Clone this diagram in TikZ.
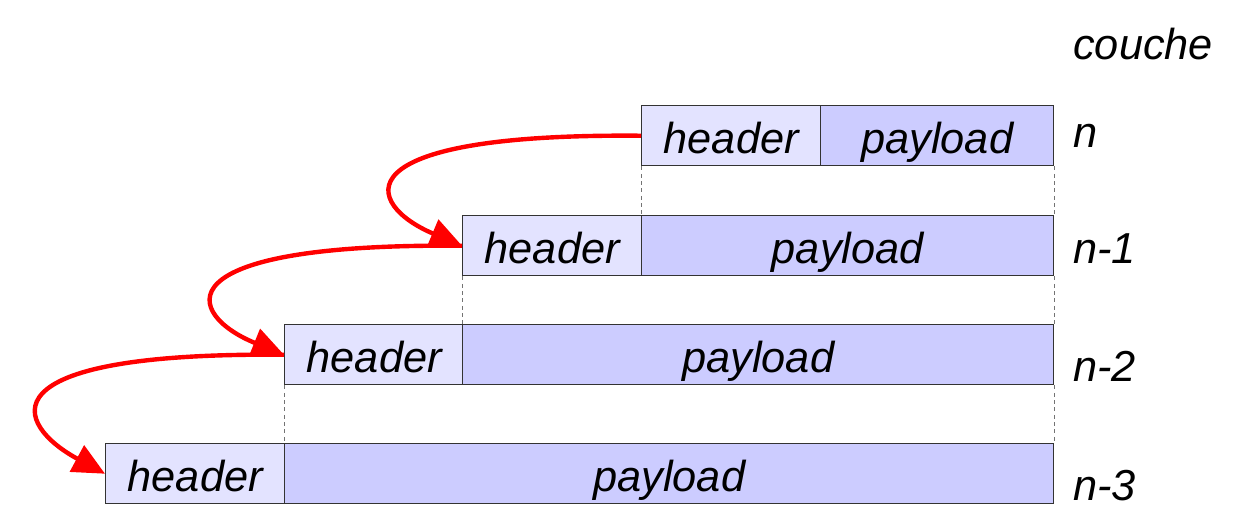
\documentclass[tikz,border=0pt]{standalone}
\usepackage{fontspec}
\setmainfont{Liberation Sans}
\usetikzlibrary{arrows.meta}
\definecolor{hdrfill}{RGB}{227,227,255}
\definecolor{payfill}{RGB}{204,204,255}
\definecolor{arrred}{RGB}{255,0,0}
\tikzset{
  cell/.style={draw=black!80, line width=1.1pt, anchor=north west, inner sep=0pt,
    minimum height=45pt, text height=30pt, text depth=3pt,
    font=\fontsize{32.5pt}{36pt}\selectfont\itshape},
  hdr/.style={cell, fill=hdrfill, minimum width=134.25pt},
  pay/.style={cell, fill=payfill},
  lbl/.style={anchor=base west, inner sep=0pt, font=\fontsize{32.5pt}{36pt}\selectfont\itshape},
  dsh/.style={draw=black!55, line width=0.75pt, dash pattern=on 3pt off 2.5pt},
  link/.style={draw=arrred, line width=3.3pt, -{Triangle[length=24pt,width=22pt]}}
}
\begin{document}
\begin{tikzpicture}[x=0.75pt,y=-0.75pt]
\useasboundingbox (0,0) rectangle (1234,523);
% row n
\node[hdr] (h1) at (641,105) {header};
\node[pay, minimum width=174.75pt] (p1) at (820,105) {payload};
% row n-1
\node[hdr] (h2) at (462,215) {header};
\node[pay, minimum width=309pt] (p2) at (641,215) {payload};
% row n-2
\node[hdr] (h3) at (284,324) {header};
\node[pay, minimum width=443.25pt] (p3) at (462,324) {payload};
% row n-3
\node[hdr] (h4) at (105,443) {header};
\node[pay, minimum width=576.75pt] (p4) at (284,443) {payload};
% labels
\node[lbl] (lc) at (1073,60) {couche};
\node[lbl] (l1) at (1073,148) {n};
\node[lbl] (l2) at (1073,264) {n-1};
\node[lbl] (l3) at (1073,382) {n-2};
\node[lbl] (l4) at (1073,500) {n-3};
% dashed guides
\draw[dsh] (h1.south west) -- (h1.south west |- h2.north);
\draw[dsh] (p1.south east) -- (p1.south east |- p2.north);
\draw[dsh] (h2.south west) -- (h2.south west |- h3.north);
\draw[dsh] (p2.south east) -- (p2.south east |- p3.north);
\draw[dsh] (h3.south west) -- (h3.south west |- h4.north);
\draw[dsh] (p3.south east) -- (p3.south east |- p4.north);
% arrows
\draw[link] (h1.west) .. controls (335,133) and (365,205) .. (h2.west);
\draw[link] (h2.west) .. controls (156,243) and (186,315) .. (h3.west);
\draw[link] (h3.west) .. controls (-22,352) and (15,425) .. (h4.west);
\end{tikzpicture}
\end{document}
